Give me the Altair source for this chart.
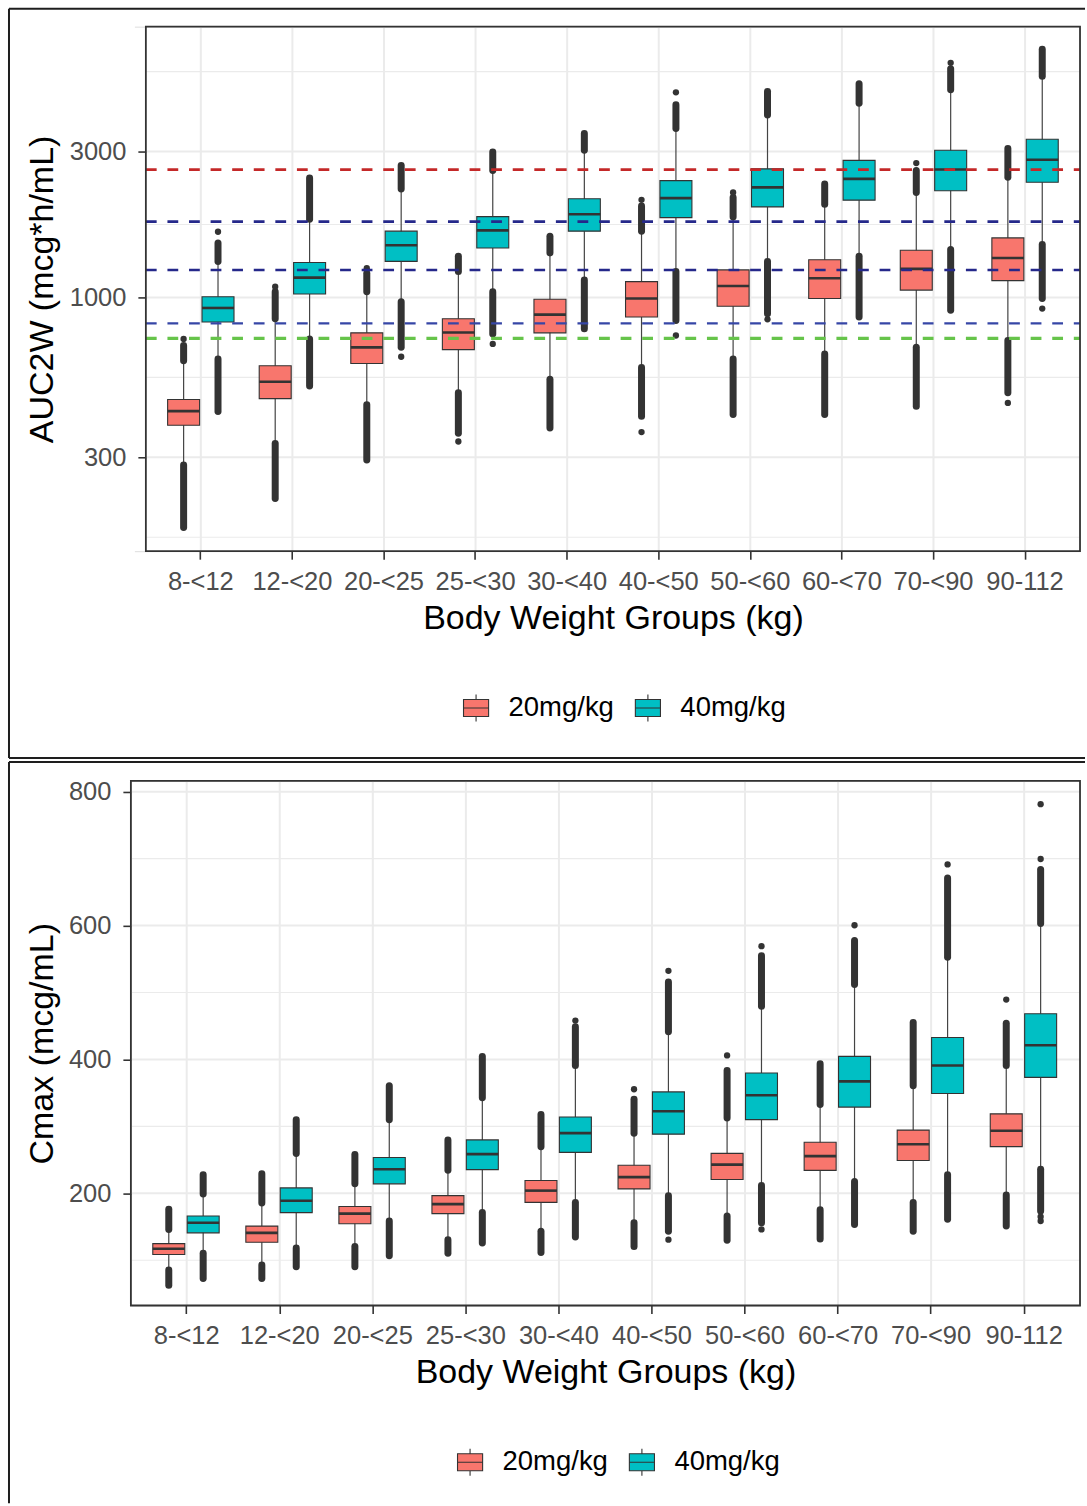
import altair as alt
import pandas as pd

FONT = "Liberation Sans"

groups = ["8-<12", "12-<20", "20-<25", "25-<30", "30-<40",
          "40-<50", "50-<60", "60-<70", "70-<90", "90-112"]
doses = ["20mg/kg", "40mg/kg"]
dose_colors = ["#F8766D", "#00BFC4"]

# ---- AUC2W (mcg*h/mL): box statistics per weight group ----
auc20_q1 = [382, 467, 608, 675, 766, 863, 936, 992, 1057, 1135]
auc20_med = [425, 530, 687, 768, 879, 992, 1090, 1156, 1240, 1346]
auc20_q3 = [464, 598, 766, 852, 987, 1127, 1231, 1328, 1427, 1566]
auc20_wlo = [283, 333, 446, 488, 540, 590, 629, 653, 687, 723]
auc20_whi = [621, 852, 1044, 1216, 1398, 1648, 1834, 2019, 2206, 2473]
auc20_olo = [177, 220, 294, 360, 374, 409, 414, 414, 441, 488]
auc20_ohi = [696, 1044, 1200, 1363, 1586, 1993, 2123, 2350, 2600, 3068]

auc40_q1 = [831, 1026, 1312, 1452, 1648, 1824, 1978, 2081, 2234, 2381]
auc40_med = [924, 1161, 1482, 1657, 1871, 2113, 2292, 2442, 2621, 2821]
auc40_q3 = [1005, 1302, 1648, 1838, 2102, 2411, 2634, 2807, 3029, 3293]
auc40_wlo = [629, 732, 968, 1044, 1141, 1216, 1312, 1363, 1434, 1489]
auc40_whi = [1312, 1801, 2262, 2601, 3029, 3572, 3954, 4320, 4781, 5292]
auc40_olo = [424, 513, 687, 760, 790, 841, 885, 863, 908, 992]
auc40_ohi = [1507, 2460, 2702, 2990, 3439, 4266, 4721, 5003, 5597, 6481]

# isolated extreme AUC2W values (group, dose, value)
auc_extremes = [
    ("8-<12", "20mg/kg", 732), ("8-<12", "40mg/kg", 1640),
    ("12-<20", "20mg/kg", 1084), ("20-<25", "20mg/kg", 1247),
    ("20-<25", "40mg/kg", 640), ("25-<30", "20mg/kg", 338),
    ("25-<30", "40mg/kg", 705), ("40-<50", "20mg/kg", 363),
    ("40-<50", "20mg/kg", 2086), ("40-<50", "40mg/kg", 751),
    ("40-<50", "40mg/kg", 4686), ("50-<60", "20mg/kg", 2206),
    ("50-<60", "40mg/kg", 848), ("70-<90", "20mg/kg", 2751),
    ("70-<90", "40mg/kg", 5855), ("90-112", "20mg/kg", 452),
    ("90-112", "40mg/kg", 920),
]

# AUC2W reference levels (dashed lines)
auc_ref_levels = [2620, 1770, 1230, 823, 735]

# ---- Cmax (mcg/mL): box statistics per weight group ----
cmax20_q1 = [108.6, 126.8, 154.6, 169.7, 186.4, 206.6, 220.7, 234.3, 249.0, 269.7]
cmax20_med = [117.2, 140.9, 169.7, 183.8, 204.0, 224.2, 242.9, 255.6, 273.2, 293.4]
cmax20_q3 = [124.8, 151.0, 180.3, 196.5, 219.2, 241.9, 259.6, 276.3, 294.4, 318.7]
cmax20_wlo = [85.4, 92.9, 120.7, 130.8, 143.4, 156.0, 166.2, 175.3, 186.4, 197.5]
cmax20_whi = [146.0, 185.4, 214.1, 234.3, 269.7, 289.9, 312.6, 332.8, 360.6, 390.9]
cmax20_olo = [62.6, 72.7, 90.4, 110.6, 111.6, 120.7, 129.8, 131.8, 143.4, 151.0]
cmax20_ohi = [176.3, 229.3, 258.0, 279.8, 317.7, 340.4, 383.3, 393.4, 455.0, 454.0]

cmax40_q1 = [140.9, 171.2, 214.1, 235.4, 261.1, 288.4, 310.1, 328.8, 349.0, 373.2]
cmax40_med = [156.0, 188.9, 235.9, 258.6, 289.9, 322.7, 346.5, 367.2, 390.9, 421.2]
cmax40_q3 = [166.2, 208.1, 253.5, 279.8, 314.1, 351.5, 379.8, 404.5, 432.8, 468.2]
cmax40_wlo = [110.6, 118.2, 158.6, 171.2, 186.4, 196.5, 211.6, 217.7, 227.8, 235.9]
cmax40_whi = [199.0, 259.6, 310.0, 342.9, 390.9, 441.4, 479.3, 512.1, 552.5, 603.0]
cmax40_olo = [72.7, 90.4, 106.6, 125.8, 134.9, 143.4, 156.0, 153.5, 161.1, 173.7]
cmax40_ohi = [227.8, 310.0, 360.6, 404.5, 449.0, 515.6, 555.0, 577.7, 671.2, 683.8]

cmax_extremes = [
    ("30-<40", "40mg/kg", 458.0), ("40-<50", "20mg/kg", 355.5),
    ("40-<50", "40mg/kg", 130.8), ("40-<50", "40mg/kg", 532.3),
    ("50-<60", "20mg/kg", 406.0), ("50-<60", "40mg/kg", 146.0),
    ("50-<60", "40mg/kg", 569.2), ("60-<70", "40mg/kg", 600.5),
    ("70-<90", "40mg/kg", 691.4), ("90-112", "20mg/kg", 489.4),
    ("90-112", "40mg/kg", 165.0), ("90-112", "40mg/kg", 158.6),
    ("90-112", "40mg/kg", 699.4), ("90-112", "40mg/kg", 781.3),
]

STAT_KEYS = ["q1", "med", "q3", "wlo", "whi", "olo", "ohi"]


def box_table(per_dose):
    rows = []
    for dose, stats in zip(doses, per_dose):
        for i, g in enumerate(groups):
            row = {"group": g, "dose": dose}
            for key, values in zip(STAT_KEYS, stats):
                row[key] = values[i]
            rows.append(row)
    return pd.DataFrame(rows)


auc_df = box_table([
    [auc20_q1, auc20_med, auc20_q3, auc20_wlo, auc20_whi, auc20_olo, auc20_ohi],
    [auc40_q1, auc40_med, auc40_q3, auc40_wlo, auc40_whi, auc40_olo, auc40_ohi],
])
cmax_df = box_table([
    [cmax20_q1, cmax20_med, cmax20_q3, cmax20_wlo, cmax20_whi, cmax20_olo, cmax20_ohi],
    [cmax40_q1, cmax40_med, cmax40_q3, cmax40_wlo, cmax40_whi, cmax40_olo, cmax40_ohi],
])
auc_dots = pd.DataFrame(auc_extremes, columns=["group", "dose", "value"])
cmax_dots = pd.DataFrame(cmax_extremes, columns=["group", "dose", "value"])

# styling of the dashed reference lines (colour, width)
ref_styles = [("#C42828", 2.7), ("#25288A", 2.7), ("#25288A", 2.7),
              ("#3646A6", 2.3), ("#66C44A", 3.3)]

# legend key drawn as a small boxplot glyph
BOX_GLYPH = ("M-0.93,-0.63H0.93V0.63H-0.93Z M-0.93,0H0.93 "
             "M0,-0.63V-1 M0,0.63V1")

GRID = "#EBEBEB"
INK = "#333333"
PANEL_W = 950
PANEL_H = 525


def blank():
    return alt.Chart(alt.Data(values=[{}]))


def frame_rule(**enc):
    return blank().mark_rule(color="#1E1E1E", strokeWidth=2).encode(
        **{k: alt.value(v) for k, v in enc.items()})


def panel(box_df, dot_df, y_scale, y_values, y_title, minor_breaks,
          inset, frame, legend_x, refs=()):
    """One boxplot panel; the data rectangle spans [inset, PANEL_W] inside the view."""
    x_axis = alt.Axis(
        grid=False, domain=False, ticks=True, tickExtra=False,
        bandPosition=0.5, tickColor=INK, tickWidth=1.6, tickSize=8,
        labelAngle=0, labelFontSize=25.5, labelColor="#4D4D4D",
        labelPadding=10, labelOverlap=False,
        titleFontSize=34, titleFontWeight="normal", titleColor="black",
        titleX=(inset + PANEL_W) / 2, titleY=67, titleAlign="center",
        titleBaseline="middle")
    y_axis = alt.Axis(
        values=y_values, format="d", grid=False, offset=-inset,
        domain=False, tickColor=INK, tickWidth=1.6, tickSize=8,
        labelFontSize=25.5, labelColor="#4D4D4D", labelPadding=12,
        titleFontSize=34, titleFontWeight="normal", titleColor="black",
        titleAngle=270, titleX=-88 - inset, titleY=PANEL_H / 2,
        titleAlign="center", titleBaseline="middle")

    x_enc = alt.X("group:N", sort=groups, title="Body Weight Groups (kg)",
                  scale=alt.Scale(domain=groups, paddingInner=0, paddingOuter=0.1,
                                  range=[inset, PANEL_W]),
                  axis=x_axis)
    off = alt.XOffset("dose:N", sort=doses,
                      scale=alt.Scale(domain=doses, paddingInner=0.07,
                                      paddingOuter=0.3665))

    def Y(field):
        return alt.Y(field, type="quantitative", scale=y_scale,
                     axis=y_axis, title=y_title)

    span = dict(x=alt.value(inset), x2=alt.value(PANEL_W))

    minor = alt.Chart(pd.DataFrame({"v": minor_breaks})).mark_rule(
        color=GRID, strokeWidth=1.1).encode(y=Y("v"), **span)
    major = alt.Chart(pd.DataFrame({"v": y_values})).mark_rule(
        color=GRID, strokeWidth=2).encode(y=Y("v"), **span)
    vgrid = alt.Chart(pd.DataFrame({"group": groups})).mark_rule(
        color=GRID, strokeWidth=2).encode(
        x=x_enc, y=alt.value(0), y2=alt.value(PANEL_H))

    whiskers = alt.Chart(box_df).mark_rule(color="#444444", strokeWidth=1.2).encode(
        x=x_enc, xOffset=off, y=Y("wlo"), y2="whi")

    low_out = alt.Chart(box_df).mark_rule(
        color=INK, strokeWidth=7, strokeCap="round").encode(
        x=x_enc, xOffset=off, y=Y("olo"), y2="wlo")
    high_out = alt.Chart(box_df).mark_rule(
        color=INK, strokeWidth=7, strokeCap="round").encode(
        x=x_enc, xOffset=off, y=Y("whi"), y2="ohi")

    dots = alt.Chart(dot_df).mark_circle(size=40, color=INK, opacity=1).encode(
        x=x_enc, xOffset=off, y=Y("value"))

    boxes = alt.Chart(box_df).mark_bar(stroke=INK, strokeWidth=1.1).encode(
        x=x_enc, xOffset=off, y=Y("q1"), y2="q3",
        fill=alt.Fill("dose:N", sort=doses,
                      scale=alt.Scale(domain=doses, range=dose_colors),
                      legend=alt.Legend(
                          title=None, orient="none", direction="horizontal",
                          legendX=legend_x, legendY=667, padding=0,
                          symbolType=BOX_GLYPH, symbolSize=729,
                          symbolStrokeColor=INK, symbolStrokeWidth=1.1,
                          symbolOpacity=1,
                          labelFontSize=27.5, labelColor="black",
                          labelFont=FONT, labelOffset=18,
                          columnPadding=18)))

    medians = alt.Chart(box_df).mark_tick(
        color=INK, thickness=2.6, size=32, opacity=1).encode(
        x=x_enc, xOffset=off, y=Y("med"))

    ref_layers = [
        alt.Chart(pd.DataFrame({"v": [lvl]})).mark_rule(
            color=col, strokeWidth=w, strokeDash=[10.8, 10.8]).encode(y=Y("v"), **span)
        for lvl, (col, w) in zip(refs, ref_styles)
    ]

    border = blank().mark_rect(filled=False, color=INK, strokeWidth=1.8).encode(
        x=alt.value(inset), x2=alt.value(PANEL_W),
        y=alt.value(0), y2=alt.value(PANEL_H))

    # keep the strip between the view edge and an inset data rectangle clean
    margin = []
    if inset:
        margin.append(blank().mark_rule(color="white", strokeWidth=6).encode(
            x=alt.value(1), y=alt.value(-2), y2=alt.value(PANEL_H + 2)))

    fx1, fx2, fy1, fy2, closed = frame
    frame_layers = [
        frame_rule(x=fx1, x2=fx2, y=fy1),
        frame_rule(x=fx1, y=fy1, y2=fy2),
    ]
    if closed:
        frame_layers.append(frame_rule(x=fx1, x2=fx2, y=fy2))

    return alt.layer(minor, major, vgrid, whiskers, low_out, high_out, dots,
                     boxes, medians, *ref_layers, border, *margin,
                     *frame_layers).properties(width=PANEL_W, height=PANEL_H)


auc_panel = panel(
    auc_df, auc_dots,
    alt.Scale(type="log", domain=[148, 7685], nice=False),
    [300, 1000, 3000], "AUC2W (mcg*h/mL)",
    [164.3, 547.7, 1732, 5477],
    15, (-122, 955, -18, 732, True), 331, refs=auc_ref_levels)

cmax_panel = panel(
    cmax_df, cmax_dots,
    alt.Scale(type="linear", domain=[32.4, 816], nice=False, zero=False),
    [200, 400, 600, 800], "Cmax (mcg/mL)",
    [100, 300, 500, 700],
    0, (-122, 955, -19, 723, False), 325)

chart = alt.vconcat(auc_panel, cmax_panel, spacing=0).resolve_scale(
    x="independent", y="independent", fill="independent"
).resolve_legend(fill="independent").properties(
    padding={"left": 7, "top": 6, "right": 0, "bottom": 0}
).configure_view(stroke="transparent", strokeWidth=0).configure(font=FONT)

chart.save("out.html", embed_options={"renderer": "svg", "actions": False})
